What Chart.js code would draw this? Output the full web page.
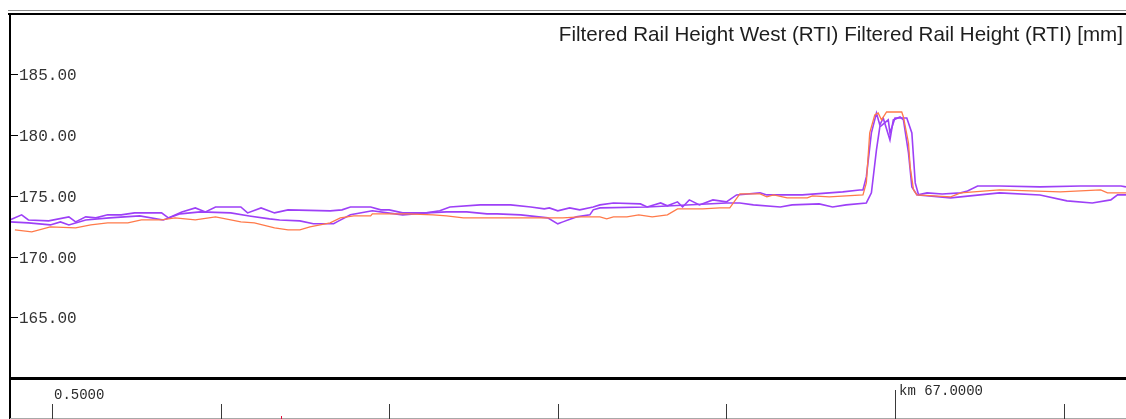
<!DOCTYPE html>
<html>
<head>
<meta charset="utf-8">
<script src="https://cdn.jsdelivr.net/npm/chart.js@4.4.1/dist/chart.umd.min.js"></script>
<style>
  html, body { margin: 0; padding: 0; background: #ffffff; }
  #wrap { width: 1126px; height: 419px; position: relative; }
  canvas { display: block; }
</style>
</head>
<body>
<div id="wrap"><canvas id="c" width="1126" height="419"></canvas></div>
<script>
// ---- Data (chainage in metres, rail height in mm) ----
const titleText = "Filtered Rail Height West (RTI) Filtered Rail Height (RTI) [mm]";

const yTickValues = [165, 170, 175, 180, 185];
const yTickLabels = ["165.00", "170.00", "175.00", "180.00", "185.00"];

const xTickValues = [66500, 66600, 66700, 66800, 66900, 67000, 67100];
const xTickLabels = { 66500: "0.5000", 67000: "km 67.0000" };
const markerChainage = 66636;

const westUpperChainage = [66475,66482,66486,66498,66510,66514,66520,66526,66533,66541,
  66549,66565,66569,66577,66585,66591,66597,66612,66616,66624,
  66632,66640,66665,66672,66677,66689,66695,66700,66708,66722,
  66730,66736,66754,66772,66784,66792,66795,66800,66807,66813,
  66821,66825,66833,66849,66853,66861,66865,66871,66874,66878,
  66884,66892,66900,66906,66920,66924,66945,66969,66979,66981,
  66983,66986,66989,66991,66993,66997,66999,67003,67005,67008,
  67010,67013,67019,67028,67039,67043,67049,67062,67086,67110,
  67134,67137];
const westUpperHeight = [173.02,173.44,173.02,172.94,173.27,172.86,173.27,173.19,173.44,173.44,
  173.60,173.60,173.19,173.68,174.01,173.68,174.09,174.09,173.60,174.01,
  173.60,173.85,173.77,173.85,174.09,174.09,173.85,173.85,173.60,173.60,
  173.77,174.09,174.26,174.26,174.09,173.93,174.01,173.77,174.01,173.85,
  174.09,174.26,174.42,174.34,174.09,174.42,174.18,174.51,174.09,174.67,
  174.26,174.67,174.51,175.08,175.25,175.08,175.08,175.33,175.49,175.49,
  176.56,180.19,181.83,180.84,181.42,179.61,181.26,181.50,181.26,178.54,
  175.74,175.08,175.25,175.16,175.25,175.41,175.82,175.82,175.74,175.82,
  175.82,175.74];

const westLowerChainage = [66475,66486,66499,66505,66510,66520,66534,66552,66566,66576,
  66588,66606,66617,66629,66635,66647,66655,66667,66669,66677,
  66690,66699,66708,66722,66734,66746,66758,66764,66778,66794,
  66800,66803,66811,66819,66821,66825,66853,66900,66908,66916,
  66932,66939,66955,66963,66971,66983,66986,66989,66991,66996,
  66997,67000,67007,67010,67012,67014,67033,67062,67086,67102,
  67117,67128,67132,67137];
const westLowerHeight = [172.86,172.78,172.61,172.86,172.61,173.02,173.19,173.35,173.02,173.52,
  173.68,173.60,173.35,173.11,173.02,172.94,172.70,172.70,172.86,173.44,
  173.77,173.60,173.44,173.60,173.68,173.68,173.52,173.52,173.44,173.19,
  172.70,172.86,173.27,173.44,173.85,174.01,174.09,174.42,174.42,174.26,
  174.09,174.26,174.34,174.09,174.26,174.42,175.25,178.79,180.68,181.26,
  180.19,181.42,181.42,180.19,176.07,175.08,174.84,175.25,175.08,174.59,
  174.42,174.67,175.08,175.08];

const railChainage = [66478,66488,66499,66514,66523,66533,66545,66553,66565,66573,
  66585,66597,66612,66620,66632,66640,66647,66653,66665,66671,
  66679,66689,66690,66711,66726,66734,66744,66758,66794,66803,
  66813,66825,66829,66833,66841,66848,66856,66865,66871,66886,
  66896,66902,66908,66920,66924,66928,66936,66948,66951,66961,
  66981,66983,66985,66988,66990,66992,66995,67004,67005,67008,
  67009,67011,67013,67033,67039,67062,67098,67122,67126,67137];
const railHeight = [172.20,172.04,172.45,172.37,172.61,172.78,172.78,173.02,173.02,173.19,
  173.02,173.27,172.86,172.78,172.37,172.20,172.20,172.45,172.78,173.19,
  173.35,173.35,173.52,173.52,173.44,173.35,173.19,173.19,173.19,173.19,
  173.27,173.27,173.11,173.27,173.27,173.44,173.27,173.44,173.93,173.93,
  174.01,174.01,175.16,175.16,174.92,175.08,174.84,174.84,175.00,174.92,
  175.08,176.07,180.19,181.67,181.83,181.26,181.91,181.91,181.50,179.36,
  177.39,175.49,175.08,174.92,175.25,175.49,175.33,175.49,175.25,175.25];

function toPoints(xs, ys) { return xs.map((x, i) => ({ x: x, y: ys[i] })); }

// ---- Decorations drawn through the chart's own scales ----
const framePlugin = {
  id: 'frame',
  afterDraw(chart) {
    const ctx = chart.ctx;
    const xs = chart.scales.x, ys = chart.scales.y;
    const area = chart.chartArea;
    ctx.save();
    // top rules
    ctx.fillStyle = '#8a8a8a';
    ctx.fillRect(8, 10, 1118, 1);
    ctx.fillStyle = '#000000';
    ctx.fillRect(8, area.top - 2, 1118, 2);
    // left frame
    ctx.fillRect(9, area.top - 2, 2, 419 - area.top + 2);
    // bottom frame
    ctx.fillRect(9, area.bottom - 1, 1117, 3);

    // y ticks and labels
    ctx.font = '16px "Liberation Mono", "Courier New", monospace';
    ctx.textBaseline = 'middle';
    ctx.textAlign = 'left';
    yTickValues.forEach((v, i) => {
      const py = Math.round(ys.getPixelForValue(v));
      ctx.fillStyle = '#000';
      ctx.fillRect(11, py, 7, 1);
      ctx.fillStyle = '#333333';
      ctx.fillText(yTickLabels[i], 19, py + 1.5);
    });

    // title
    ctx.font = '20.6px "Liberation Sans", Arial, sans-serif';
    ctx.textAlign = 'right';
    ctx.textBaseline = 'alphabetic';
    ctx.fillStyle = '#1e1e1e';
    ctx.fillText(titleText, 1123, 41);

    // bottom distance strip
    ctx.fillStyle = '#a8a8a8';
    ctx.fillRect(10, 418, 1116, 1);
    ctx.fillStyle = '#3a3a3a';
    xTickValues.forEach(v => {
      const px = Math.round(xs.getPixelForValue(v));
      const top = (v === 67000) ? 390 : 404;
      ctx.fillRect(px, top, 1, 419 - top);
    });
    ctx.font = '14px "Liberation Mono", "Courier New", monospace';
    ctx.textAlign = 'left';
    ctx.textBaseline = 'middle';
    ctx.fillStyle = '#2a2a2a';
    Object.keys(xTickLabels).forEach(k => {
      const v = Number(k);
      const px = xs.getPixelForValue(v);
      const yMid = (v === 67000) ? 391 : 395;
      ctx.fillText(xTickLabels[k], px + (v === 67000 ? 4 : 2), yMid);
    });
    // red position marker
    ctx.fillStyle = '#e0103a';
    ctx.fillRect(Math.round(xs.getPixelForValue(markerChainage)), 416, 1, 3);
    ctx.restore();
  }
};

new Chart(document.getElementById('c'), {
  type: 'line',
  data: {
    datasets: [
      { label: 'Filtered Rail Height (RTI)', data: toPoints(railChainage, railHeight),
        borderColor: '#ff7a4a', borderWidth: 1.3, pointRadius: 0, tension: 0, fill: false },
      { label: 'Filtered Rail Height West (RTI) A', data: toPoints(westUpperChainage, westUpperHeight),
        borderColor: '#9d40f7', borderWidth: 1.6, pointRadius: 0, tension: 0, fill: false },
      { label: 'Filtered Rail Height West (RTI) B', data: toPoints(westLowerChainage, westLowerHeight),
        borderColor: '#9d40f7', borderWidth: 1.6, pointRadius: 0, tension: 0, fill: false }
    ]
  },
  options: {
    responsive: false,
    animation: false,
    devicePixelRatio: 1,
    parsing: true,
    layout: { padding: { left: 10, top: 15, right: 0, bottom: 41 } },
    plugins: { legend: { display: false }, tooltip: { enabled: false }, title: { display: false } },
    scales: {
      x: { type: 'linear', min: 66475.09, max: 67137.01, display: false },
      y: { type: 'linear', min: 160.0, max: 189.9, display: false }
    }
  },
  plugins: [framePlugin]
});
</script>
</body>
</html>
